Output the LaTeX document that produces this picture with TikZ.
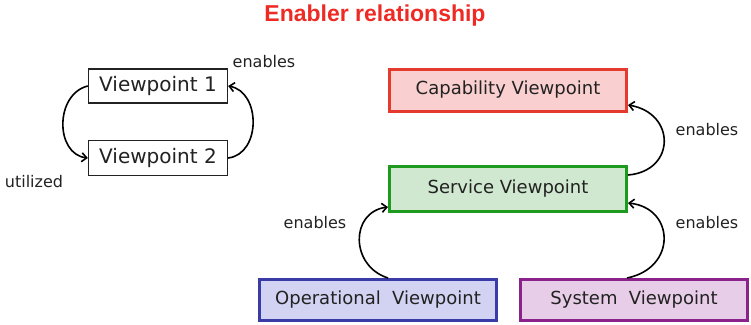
\documentclass[tikz,border=0pt]{standalone}
\usepackage{fontspec}
\setmainfont{DejaVu Sans}
\newfontfamily\titlefont{Liberation Sans}
\usetikzlibrary{arrows.meta}
\definecolor{txt}{HTML}{222222}
\definecolor{titlered}{HTML}{EE2A24}
\definecolor{capfill}{HTML}{F9CFCF}
\definecolor{capline}{HTML}{E53A2E}
\definecolor{srvfill}{HTML}{CFE8CF}
\definecolor{srvline}{HTML}{1E9A1E}
\definecolor{opsfill}{HTML}{D2D2F2}
\definecolor{opsline}{HTML}{3B3BA8}
\definecolor{sysfill}{HTML}{E8CDE8}
\definecolor{sysline}{HTML}{8B228B}
\tikzset{
  plainbox/.style={draw=txt, line width=1.3pt, fill=white, text=txt, inner sep=0pt,
    font=\fontsize{20}{24}\selectfont},
  vpbox/.style={line width=3pt, text=txt, inner sep=0pt, minimum width=237pt,
    font=\fontsize{18}{22}\selectfont},
  lbl/.style={text=txt, inner sep=0pt, font=\fontsize{16}{19}\selectfont},
  rel/.style={line width=1.6pt, draw=black, -{Straight Barb[length=5pt,width=9pt]}}
}
\begin{document}
\begin{tikzpicture}[x=1pt, y=-1pt]
\useasboundingbox (0,0) rectangle (751,324);

% title
\node (title) at (375,16) {\titlefont\bfseries\color{titlered}\fontsize{23}{27}\selectfont Enabler relationship};

% left pair of viewpoints
\node[plainbox, minimum width=139pt, minimum height=34pt] (v1) at (158,86) {Viewpoint 1};
\node[plainbox, minimum width=139pt, minimum height=35pt] (v2) at (158,158) {Viewpoint 2};
\node[lbl] (en0) at (264,62) {enables};
\node[lbl] (ut) at (34,182) {utilized};
\draw[rel] (v1.west) .. controls +(-33,8) and +(-33,-4) .. (v2.west);
\draw[rel] (v2.east) .. controls +(33,-4) and +(33,6) .. (v1.east);

% viewpoint hierarchy
\node[vpbox, draw=capline, fill=capfill, minimum height=42pt] (cap) at (508,90) {Capability Viewpoint};
\node[vpbox, draw=srvline, fill=srvfill, minimum height=45pt] (srv) at (508,189) {Service Viewpoint};
\node[vpbox, draw=opsline, fill=opsfill, minimum height=41pt] (ops) at (378,300) {Operational\ \ Viewpoint};
\node[vpbox, draw=sysline, fill=sysfill, minimum width=227pt, minimum height=41pt] (sys) at (634,300) {System\ \ Viewpoint};

\node[lbl] (en1) at (707,130) {enables};
\node[lbl] (en2) at (315,223) {enables};
\node[lbl] (en3) at (707,223) {enables};

\draw[rel] ([yshift=14pt]srv.east) .. controls +(48,-4) and +(48,8) .. ([yshift=-15pt]cap.east);
\draw[rel] ([xshift=10pt]ops.north) .. controls +(-38,-12) and +(-38,5) .. ([yshift=-18pt]srv.west);
\draw[rel] ([xshift=-7pt]sys.north) .. controls +(50,-10) and +(47,5) .. ([yshift=-14pt]srv.east);
\end{tikzpicture}
\end{document}
